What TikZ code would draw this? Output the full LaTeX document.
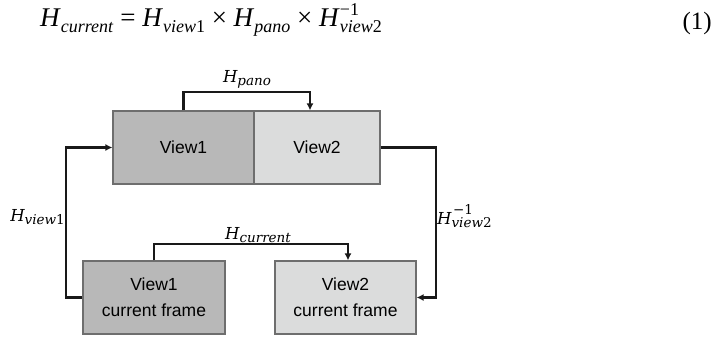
\documentclass[tikz,border=0pt]{standalone}
\usepackage[no-math]{fontspec}
\setmainfont{Liberation Serif}
\newfontfamily\boxfont{Liberation Sans}
\newfontfamily\labelfont{DejaVu Serif}
\usetikzlibrary{arrows.meta}

% lowered and raised indices for the text-set equation
\newcommand{\eqlow}[1]{\raisebox{-6pt}{\fontsize{18}{18}\selectfont #1}}
\newcommand{\eqhigh}[1]{\rlap{\raisebox{11pt}{\fontsize{18}{18}\selectfont #1}}}
% homography labels: italic H with lowered (and optional raised) index
\newcommand{\hlow}[1]{\raisebox{-3pt}{\fontsize{13.5}{14}\selectfont #1}}
\newcommand{\hhigh}[1]{\rlap{\kern1.5pt\raisebox{10pt}{\fontsize{13.5}{14}\selectfont #1}}}

\definecolor{darkfill}{HTML}{B8B8B8}
\definecolor{lightfill}{HTML}{DBDCDC}
\definecolor{boxline}{HTML}{6E6E6E}

\tikzset{
  viewbox/.style={draw=boxline, line width=1.2pt, inner sep=0pt,
    minimum height=73pt, align=center,
    font=\boxfont\fontsize{17.5}{26}\selectfont},
  darkbox/.style={viewbox, fill=darkfill},
  lightbox/.style={viewbox, fill=lightfill},
  conn/.style={draw=black!90, line width=2.1pt,
    -{Latex[length=7pt,width=7pt]}},
  hlabel/.style={inner sep=0pt, font=\labelfont\itshape\fontsize{16.5}{18}\selectfont}
}

\begin{document}
\begin{tikzpicture}[x=1pt,y=-1pt]
\useasboundingbox (0,0) rectangle (722,337);

% equation line
\node[anchor=base west, inner sep=0pt, font=\fontsize{27}{30}\selectfont] (eq) at (40,27)
  {\textit{H}\eqlow{\textit{current}} = \textit{H}\eqlow{\textit{view}1} × \textit{H}\eqlow{\textit{pano}} × \textit{H}\eqhigh{−1}\eqlow{\textit{view}2}};
\node[anchor=base east, inner sep=0pt, font=\fontsize{25}{30}\selectfont] (eqno) at (712,30) {(1)};

% panorama views
\node[lightbox, minimum width=126pt] (v2) at (317,147.5) {View2};
\node[darkbox, minimum width=141pt] (v1) at (183.5,147.5) {View1};

% current frames
\node[darkbox, minimum width=142pt] (c1) at (154,297.5) {View1\\current frame};
\node[lightbox, minimum width=141pt] (c2) at (345.5,297.5) {View2\\current frame};

% homographies
\draw[conn] (v1.north) |- ([xshift=-7pt,yshift=18pt]v2.north) -- ([xshift=-7pt]v2.north);
\draw[conn] (c1.north) |- ([xshift=2.5pt,yshift=16pt]c2.north) -- ([xshift=2.5pt]c2.north);
\draw[conn] (c1.west) -- ++(-16,0) |- (v1.west);
\draw[conn] (v2.east) -| ([xshift=19pt]c2.east) -- (c2.east);

\node[hlabel, anchor=base] (lpano) at (247,82) {H\hlow{pano}};
\node[hlabel, anchor=base] (lcur) at (258,239) {H\hlow{current}};
\node[hlabel, anchor=base east] (lv1) at (65,221) {H\hlow{view\upshape 1}};
\node[hlabel, anchor=base west] (lv2) at (437,224) {H\hhigh{\upshape −1}\hlow{view\upshape 2}};
\end{tikzpicture}
\end{document}
